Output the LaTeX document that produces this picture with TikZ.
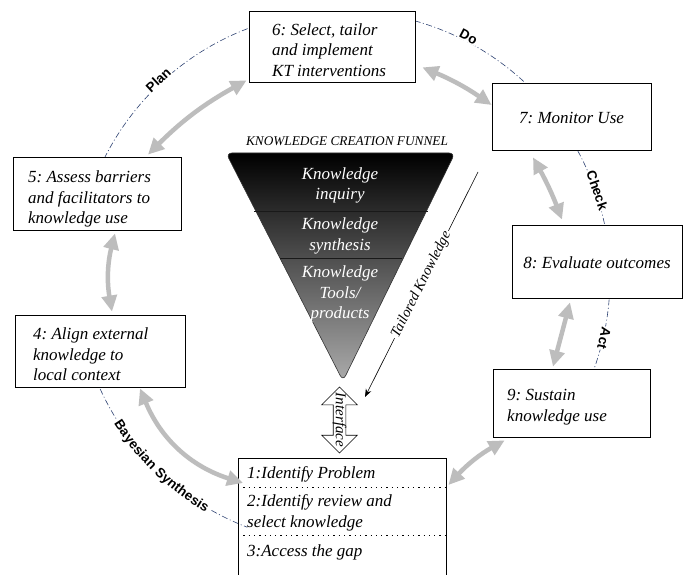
\documentclass[tikz,border=0pt]{standalone}
\usepackage{fontspec}
\setmainfont{Liberation Serif}
\setsansfont{Liberation Sans}
\usetikzlibrary{arrows.meta,shapes.arrows,decorations.text,calc}
\definecolor{arcblue}{HTML}{2E4272}
\definecolor{arrgray}{HTML}{BDBDBD}
\frenchspacing
\begin{document}
\begin{tikzpicture}[x=1pt,y=1pt,
 box/.style={draw=black, line width=0.8pt, fill=white, inner sep=0pt},
 btxt/.style={font=\fontsize{17}{20.5}\selectfont\itshape, align=left, anchor=west, inner sep=0pt},
 ctxt/.style={font=\fontsize{17}{20.5}\selectfont\itshape, align=center, inner sep=0pt},
 cyc/.style={draw=arrgray, line width=4.5pt, {Triangle[length=16pt,width=15pt]}-{Triangle[length=16pt,width=15pt]}},
 phase/.style={arcblue, line width=0.6pt, dash pattern=on 6pt off 2.5pt on 1pt off 2.5pt},
 plbl/.style={font=\fontsize{13.5}{14}\selectfont\sffamily\bfseries, fill=white, inner sep=1pt},
 fnl/.style={text=white, font=\fontsize{17}{20.5}\selectfont\itshape, align=center, inner sep=0pt}
]
\useasboundingbox (0,0) rectangle (689,-575);
\fill[white] (0,0) rectangle (689,-575);
\coordinate (C) at (343,-278);

% phase arcs
\draw[phase] ($(C)+(156:267)$) arc[start angle=156, end angle=108, radius=267];
\draw[phase] ($(C)+(77:267)$) arc[start angle=77, end angle=45, radius=267];
\draw[phase] ($(C)+(31:267)$) arc[start angle=31, end angle=9, radius=267];
\draw[phase] ($(C)+(-2:267)$) arc[start angle=-2, end angle=-21, radius=267];
\draw[phase] ($(C)+(202:267)$) arc[start angle=202, end angle=212, radius=267];
\draw[phase] ($(C)+(240.5:267)$) arc[start angle=240.5, end angle=249, radius=267];
\path[decorate, decoration={text along path, text={|\fontsize{13.5}{14}\selectfont\sffamily\bfseries|Bayesian Synthesis}, text align=center, raise=-4.5pt}]
  ($(C)+(204:267)$) arc[start angle=204, end angle=248, radius=267];

\node[plbl, rotate=43] (lplan) at ($(C)+(133:271)$) {Plan};
\node[plbl, rotate=-27.5] (ldo) at ($(C)+(62.5:272)$) {Do};
\node[plbl, rotate=-71] (lcheck) at ($(C)+(19:269)$) {Check};
\node[plbl, rotate=-103] (lact) at ($(C)+(-13:268)$) {Act};

% boxes
\node[box, minimum width=166, minimum height=71] (b6) at (332,-46.5) {};
\node[btxt] (t6) at (272,-50) {6: Select, tailor\\and implement\\KT interventions};
\node[box, minimum width=159, minimum height=67] (b7) at (571.5,-116.5) {};
\node[ctxt] (t7) at (571.5,-118) {7: Monitor Use};
\node[box, minimum width=168, minimum height=73] (b5) at (97,-193.5) {};
\node[btxt] (t5) at (28,-199) {5: Assess barriers\\and facilitators to\\knowledge use};
\node[box, minimum width=170, minimum height=72] (b4) at (100,-351) {};
\node[btxt] (t4) at (33,-354.5) {4: Align external\\knowledge to\\local context};
\node[box, minimum width=170, minimum height=73] (b8) at (597,-261.5) {};
\node[ctxt] (t8) at (597,-263) {8: Evaluate outcomes};
\node[box, minimum width=157, minimum height=68] (b9) at (571.5,-403) {};
\node[btxt] (t9) at (507,-407) {9: Sustain\\knowledge use};

\node[draw=none, minimum width=208, minimum height=117, anchor=north west, inner sep=0] (b1) at (238,-458) {};
\draw[line width=0.8pt] (b1.south west) -- (b1.north west) -- (b1.north east) -- (b1.south east);
\draw[line width=0.8pt, dash pattern=on 1.3pt off 4pt] ([yshift=-29]b1.north west) -- ([yshift=-29]b1.north east);
\draw[line width=0.8pt, dash pattern=on 1.3pt off 4pt] ([yshift=-77]b1.north west) -- ([yshift=-77]b1.north east);
\node[btxt] (t1) at (247,-474) {1:Identify Problem};
\node[btxt] (t2) at (247,-513) {2:Identify review and\\select knowledge};
\node[btxt] (t3) at (247,-552) {3:Access the gap};

% cycle arrows
\draw[cyc] ([shift={(51,2)}]b5.north) to[bend left=8] ([shift={(-2,2)}]b6.south west);
\draw[cyc] ([shift={(18,-3)}]b5.south) to[bend right=12] ([shift={(12,3)}]b4.north);
\draw[cyc] ([shift={(40,-1)}]b4.south) to[bend right=25] ([shift={(5,-25)}]b1.north west);
\draw[cyc] ([shift={(7,15)}]b6.south east) to[bend left=6] ([shift={(0,11.5)}]b7.west);
\draw[cyc] ([shift={(-38.5,-7)}]b7.south) to[bend left=4] ([shift={(-35,5)}]b8.north);
\draw[cyc] ([shift={(-27,-4)}]b8.south) -- ([shift={(-18.5,2)}]b9.north);
\draw[cyc] ([shift={(12,-3)}]b9.south west) to[bend right=9] ([shift={(2,-27)}]b1.north east);

% funnel
\node[font=\fontsize{13.3}{14}\selectfont\itshape, inner sep=0] (ftitle) at (347,-141) {KNOWLEDGE CREATION FUNNEL};
\shade[top color=black, bottom color=black!33, rounded corners=6pt, draw=black!80, line width=0.6pt] (226,-153) -- (455,-153) -- (343,-381) -- cycle;
\draw[black!90, line width=0.8pt] (254,-211) -- (428,-211);
\draw[black!90, line width=0.8pt] (280,-258) -- (402,-258);
\node[fnl] (f1) at (340,-185.5) {Knowledge\\inquiry};
\node[fnl] (f2) at (340,-236) {Knowledge\\synthesis};
\node[fnl] (f3) at (340,-294) {Knowledge\\Tools/\\products};

% tailored knowledge
\coordinate (tkA) at (478,-172);
\coordinate (tkB) at (365,-397);
\draw[line width=0.6pt, -{Stealth[length=8pt,width=6pt]}] (tkA) -- node[sloped, fill=white, inner sep=1.5pt, font=\fontsize{14.5}{15}\selectfont\itshape] (tkl) {Tailored Knowledge} (tkB);

% interface
\node[double arrow, draw, fill=white, line width=0.6pt, rotate=90, minimum height=66, inner sep=6pt, double arrow head extend=11.5pt] (ifa) at (339.5,-420) {};
\node[rotate=-90, font=\fontsize{15}{15}\selectfont\itshape, inner sep=0] (itf) at (ifa) {Interface};
\end{tikzpicture}
\end{document}
